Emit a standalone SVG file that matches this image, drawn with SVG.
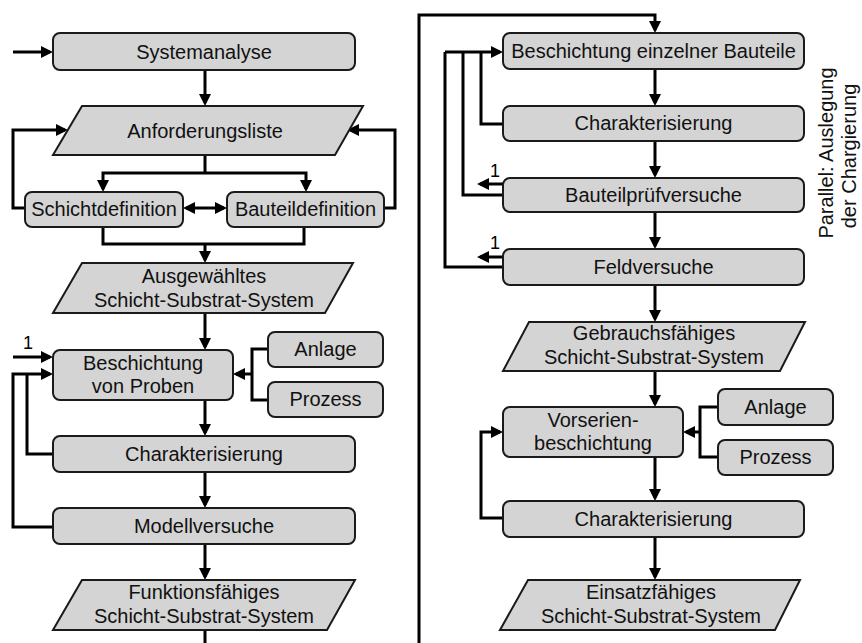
<svg xmlns="http://www.w3.org/2000/svg" width="862" height="643" viewBox="0 0 862 643">
<style>
.b{fill:#d4d4d4;stroke:#1a1a1a;stroke-width:2}
.t{font-family:"Liberation Sans",Arial,sans-serif;font-size:20px;fill:#111;text-anchor:middle}
.n{font-family:"Liberation Sans",Arial,sans-serif;font-size:18px;fill:#000;text-anchor:middle}
.c{fill:none;stroke:#000;stroke-width:3;stroke-linejoin:miter}
.a{marker-end:url(#ah)}
.d{marker-start:url(#ah);marker-end:url(#ah)}
</style>
<defs>
<marker id="ah" viewBox="0 0 12 12" refX="9" refY="6" markerWidth="12" markerHeight="12" markerUnits="userSpaceOnUse" orient="auto-start-reverse"><path d="M0,0 L12,6 L0,12 z" fill="#000"/></marker>
</defs>
<rect width="862" height="643" fill="#fff"/>
<g id="connectors">
<path class="c a" d="M13,52 H50"/>
<path class="c a" d="M205,70 V103"/>
<path class="c a" d="M25,208 H13 V130 H65"/>
<path class="c a" d="M384,208 H395 V130 H350"/>
<path class="c" d="M205,155 V173"/>
<path class="c d" d="M103,189 V173 H306 V189"/>
<path class="c d" d="M186,208 H224"/>
<path class="c" d="M103,227 V244 H304 V227"/>
<path class="c a" d="M205,244 V260"/>
<path class="c a" d="M205,313 V347"/>
<path class="c" d="M268,349 H252 V400 H268"/>
<path class="c a" d="M252,374 H236"/>
<path class="c a" d="M13,357 H50"/>
<path class="c a" d="M53,527 H13 V374 H50"/>
<path class="c" d="M53,454 H27 V374"/>
<path class="c a" d="M205,400 V433"/>
<path class="c a" d="M205,472 V505"/>
<path class="c a" d="M205,544 V577"/>
<path class="c" d="M205,630 V643"/>
<path class="c a" d="M419,643 V15 H655 V30"/>
<path class="c a" d="M655,69 V103"/>
<path class="c a" d="M655,141 V175"/>
<path class="c a" d="M655,212 V246"/>
<path class="c a" d="M655,285 V319"/>
<path class="c a" d="M655,371 V404"/>
<path class="c a" d="M655,457 V498"/>
<path class="c a" d="M655,537 V577"/>
<path class="c a" d="M445,52 H500"/>
<path class="c" d="M503,124 H481 V52"/>
<path class="c" d="M503,195 H463 V52"/>
<path class="c" d="M503,267 H445 V52"/>
<path class="c a" d="M503,184 H480"/>
<path class="c a" d="M503,257 H480"/>
<path class="c" d="M718,407 H700 V457 H718"/>
<path class="c a" d="M700,432 H686"/>
<path class="c a" d="M503,518 H481 V432 H500"/>
</g>
<g id="lbl1a"><text class="n" x="28" y="349" fill="#000">1</text></g>
<g id="lbl1b"><text class="n" x="495" y="177" fill="#000">1</text></g>
<g id="lbl1c"><text class="n" x="495" y="249" fill="#000">1</text></g>
<g id="systemanalyse"><rect class="b" x="53" y="33" width="302" height="37" rx="7"/><text class="t" x="204" y="59">Systemanalyse</text></g>
<g id="anforderungsliste"><polygon class="b" points="82,106 363,106 335,155 53,155"/><text class="t" x="205" y="138">Anforderungsliste</text></g>
<g id="schichtdefinition"><rect class="b" x="25" y="192" width="158" height="35" rx="7"/><text class="t" x="104" y="216">Schichtdefinition</text></g>
<g id="bauteildefinition"><rect class="b" x="227" y="192" width="157" height="35" rx="7"/><text class="t" x="305.5" y="216">Bauteildefinition</text></g>
<g id="ausgewaehltes"><polygon class="b" points="82,263 353,263 325,313 53,313"/><text class="t" x="204" y="283">Ausgewähltes</text><text class="t" x="204" y="307">Schicht-Substrat-System</text></g>
<g id="beschichtung-proben"><rect class="b" x="53" y="350" width="180" height="50" rx="7"/><text class="t" x="143" y="370">Beschichtung</text><text class="t" x="143" y="393">von Proben</text></g>
<g id="anlage1"><rect class="b" x="268" y="332" width="115" height="35" rx="7"/><text class="t" x="325.5" y="356">Anlage</text></g>
<g id="prozess1"><rect class="b" x="268" y="382" width="115" height="35" rx="7"/><text class="t" x="325.5" y="406">Prozess</text></g>
<g id="charakterisierung1"><rect class="b" x="53" y="436" width="302" height="36" rx="7"/><text class="t" x="204" y="461">Charakterisierung</text></g>
<g id="modellversuche"><rect class="b" x="53" y="508" width="302" height="36" rx="7"/><text class="t" x="204" y="533">Modellversuche</text></g>
<g id="funktionsfaehiges"><polygon class="b" points="82,580 355,580 327,630 53,630"/><text class="t" x="204" y="599">Funktionsfähiges</text><text class="t" x="204" y="623">Schicht-Substrat-System</text></g>
<g id="beschichtung-bauteile"><rect class="b" x="503" y="33" width="301" height="36" rx="7"/><text class="t" x="653.5" y="58">Beschichtung einzelner Bauteile</text></g>
<g id="charakterisierung2"><rect class="b" x="503" y="106" width="301" height="35" rx="7"/><text class="t" x="653.5" y="130">Charakterisierung</text></g>
<g id="bauteilpruefversuche"><rect class="b" x="503" y="178" width="301" height="34" rx="7"/><text class="t" x="653.5" y="202">Bauteilprüfversuche</text></g>
<g id="feldversuche"><rect class="b" x="503" y="249" width="301" height="36" rx="7"/><text class="t" x="653.5" y="274">Feldversuche</text></g>
<g id="gebrauchsfaehiges"><polygon class="b" points="529,322 805,322 780,371 503,371"/><text class="t" x="654" y="340">Gebrauchsfähiges</text><text class="t" x="654" y="364">Schicht-Substrat-System</text></g>
<g id="vorserienbeschichtung"><rect class="b" x="503" y="407" width="180" height="50" rx="7"/><text class="t" x="593" y="427">Vorserien-</text><text class="t" x="593" y="450">beschichtung</text></g>
<g id="anlage2"><rect class="b" x="718" y="389" width="115" height="36" rx="7"/><text class="t" x="775.5" y="414">Anlage</text></g>
<g id="prozess2"><rect class="b" x="718" y="440" width="115" height="35" rx="7"/><text class="t" x="775.5" y="464">Prozess</text></g>
<g id="charakterisierung3"><rect class="b" x="503" y="501" width="301" height="36" rx="7"/><text class="t" x="653.5" y="526">Charakterisierung</text></g>
<g id="einsatzfaehiges"><polygon class="b" points="528,580 800,580 775,630 500,630"/><text class="t" x="651" y="599">Einsatzfähiges</text><text class="t" x="651" y="623">Schicht-Substrat-System</text></g>
<g id="parallel-note"><text class="t" font-size="19" transform="translate(833,153) rotate(-90)">Parallel: Auslegung</text><text class="t" font-size="19" transform="translate(856,156) rotate(-90)">der Chargierung</text></g>
</svg>
